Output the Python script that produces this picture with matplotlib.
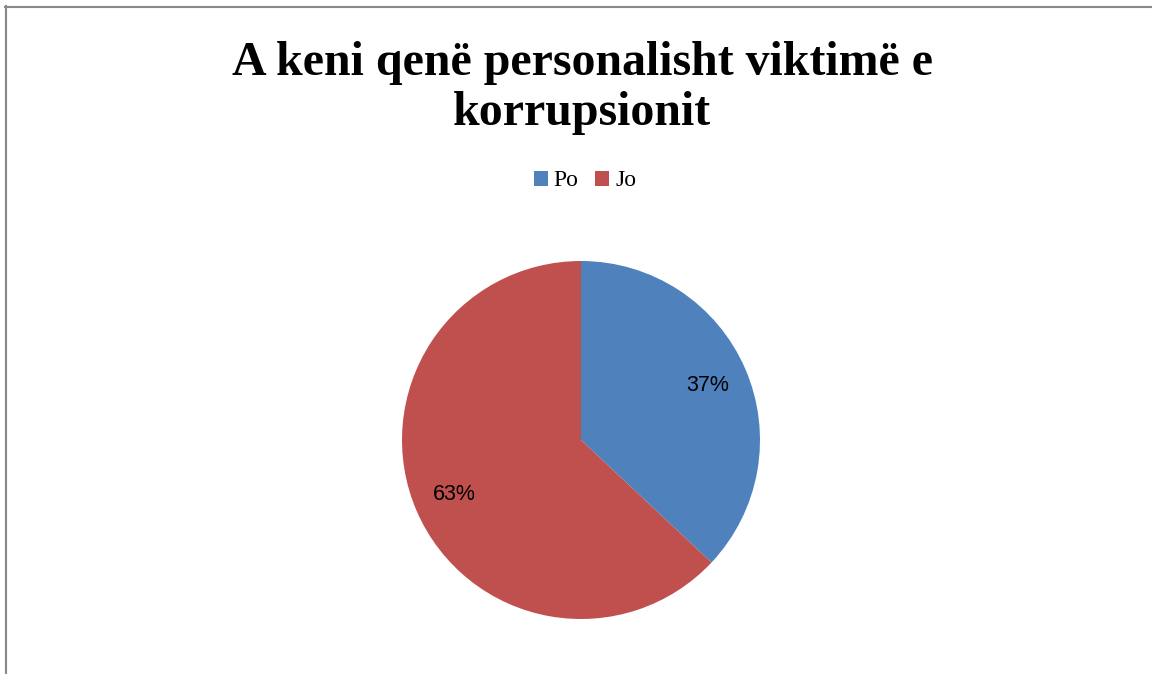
import matplotlib.pyplot as plt
from matplotlib.patches import Patch
from matplotlib.lines import Line2D

# Data
labels = ['Po', 'Jo']
values = [37, 63]
colors = ['#4F81BD', '#C0504D']
title = 'A keni qenë personalisht viktimë e\nkorrupsionit'

W, H = 1152, 674
fig = plt.figure(figsize=(W / 100, H / 100), dpi=100)

# chart frame (left and top border only visible)
fig.add_artist(Line2D([5.5 / W, 5.5 / W], [0, 1 - 6 / H], color='#888888', lw=1.5, transform=fig.transFigure))
fig.add_artist(Line2D([5 / W, 1], [1 - 6.5 / H, 1 - 6.5 / H], color='#888888', lw=1.5, transform=fig.transFigure))

# pie axes: centre (581, 440), radius 179 px
cx, cy, r = 581, 440, 179
ax = fig.add_axes([(cx - r) / W, (H - cy - r) / H, 2 * r / W, 2 * r / H])
wedges, _, autotexts = ax.pie(values, colors=colors, startangle=90, counterclock=False,
                              autopct='%1.0f%%', pctdistance=0.77, radius=1,
                              textprops={'family': 'Liberation Sans', 'fontsize': 15.5, 'color': 'black'})
ax.set_xlim(-1, 1)
ax.set_ylim(-1, 1)
ax.set_aspect('equal')
ax.axis('off')

fig.text(582 / W, 1 - 88 / H, title, ha='center', va='center', family='Liberation Serif',
         fontweight='bold', fontsize=34.5, linespacing=1.2)

handles = [Patch(facecolor=c, label=l) for c, l in zip(colors, labels)]
fig.legend(handles=handles, loc='center', bbox_to_anchor=(585 / W, 1 - 181 / H), ncol=2, frameon=False,
           prop={'family': 'Liberation Serif', 'size': 17}, handlelength=0.6, handleheight=0.6,
           handletextpad=0.25, columnspacing=0.7)

fig.savefig('out.png', dpi=100)
